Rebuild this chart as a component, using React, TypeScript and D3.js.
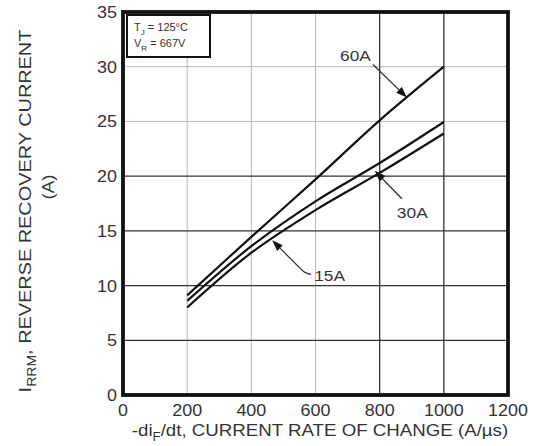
import React from 'react';
import * as d3 from 'd3';

// Reverse recovery current vs. current rate of change, T_J = 125°C, V_R = 667V
const diRates = [200, 400, 600, 800, 1000];
const irrm60A = [9.1, 14.45, 19.7, 25.1, 30.0];
const irrm30A = [8.6, 13.6, 17.7, 21.2, 24.95];
const irrm15A = [8.0, 13.0, 16.9, 20.3, 23.9];

const xTicks = [0, 200, 400, 600, 800, 1000, 1200];
const yTicks = [0, 5, 10, 15, 20, 25, 30, 35];
const lightXGrid = [200, 400, 600];
const darkXGrid = [800, 1000];
const lightYGrid = [25, 30];
const darkYGrid = [5, 10, 15, 20];

const W = 535;
const H = 446;
const M = { left: 123, top: 12, right: 27, bottom: 51 };
const FONT = "'Liberation Sans', Arial, Helvetica, sans-serif";
const INK = '#333';
const STRETCH = 1.12;

function interp(xs: number[], ys: number[], x: number) {
  for (let i = 0; i < xs.length - 1; i++) {
    if (x >= xs[i] && x <= xs[i + 1]) {
      const t = (x - xs[i]) / (xs[i + 1] - xs[i]);
      return ys[i] + t * (ys[i + 1] - ys[i]);
    }
  }
  return ys[ys.length - 1];
}

function Arrow({ x1, y1, x2, y2 }: { x1: number; y1: number; x2: number; y2: number }) {
  const ang = Math.atan2(y2 - y1, x2 - x1);
  const len = 11;
  const half = 4;
  const bx = x2 - len * Math.cos(ang);
  const by = y2 - len * Math.sin(ang);
  const px = -Math.sin(ang) * half;
  const py = Math.cos(ang) * half;
  return (
    <g>
      <line x1={x1} y1={y1} x2={bx} y2={by} stroke={INK} strokeWidth={1.3} />
      <polygon
        points={`${x2},${y2} ${bx + px},${by + py} ${bx - px},${by - py}`}
        fill="#111"
      />
    </g>
  );
}

function Label({
  x,
  y,
  anchor = 'start',
  size = 16,
  children,
}: {
  x: number;
  y: number;
  anchor?: string;
  size?: number;
  children: React.ReactNode;
}) {
  return (
    <g transform={`translate(${x},${y}) scale(${STRETCH},1)`}>
      <text x={0} y={0} textAnchor={anchor} fontFamily={FONT} fontSize={size} fill={INK}>
        {children}
      </text>
    </g>
  );
}

export default function App() {
  const iw = W - M.left - M.right;
  const ih = H - M.top - M.bottom;
  const x = d3.scaleLinear().domain([0, 1200]).range([M.left, M.left + iw]);
  const y = d3.scaleLinear().domain([0, 35]).range([M.top + ih, M.top]);

  const line = d3
    .line<[number, number]>()
    .x((d) => x(d[0]))
    .y((d) => y(d[1]))
    .curve(d3.curveCatmullRom.alpha(0.5));

  const series = [irrm60A, irrm30A, irrm15A];

  // annotation tips
  const t60 = { x: x(885), y: y(interp(diRates, irrm60A, 885)) };
  const v30 = (interp(diRates, irrm30A, 785) + interp(diRates, irrm15A, 785)) / 2;
  const t30 = { x: x(785), y: y(v30) };
  const t15 = { x: x(465), y: y(interp(diRates, irrm15A, 465)) + 1.5 };

  const tail60 = { x: t60.x - 34, y: t60.y - 33 };
  const tail30 = { x: t30.x + 27, y: t30.y + 28 };
  const tail15 = { x: t15.x + 28, y: t15.y + 28 };

  return (
    <svg width={W} height={H} style={{ position: 'absolute', left: 0, top: 0, background: '#fff' }}>
      <rect x={0} y={0} width={W} height={H} fill="#fff" />
      {/* grid */}
      {lightXGrid.map((v) => (
        <line key={`lx${v}`} x1={x(v)} x2={x(v)} y1={y(0)} y2={y(35)} stroke="#b8b8b8" strokeWidth={1} />
      ))}
      {lightYGrid.map((v) => (
        <line key={`ly${v}`} x1={x(0)} x2={x(1200)} y1={y(v)} y2={y(v)} stroke="#b8b8b8" strokeWidth={1} />
      ))}
      {darkXGrid.map((v) => (
        <line key={`dx${v}`} x1={x(v)} x2={x(v)} y1={y(0)} y2={y(35)} stroke="#333" strokeWidth={1.3} />
      ))}
      {darkYGrid.map((v) => (
        <line key={`dy${v}`} x1={x(0)} x2={x(1200)} y1={y(v)} y2={y(v)} stroke="#333" strokeWidth={1.3} />
      ))}

      {/* curves */}
      {series.map((s, i) => (
        <path
          key={i}
          d={line(diRates.map((d, j) => [d, s[j]] as [number, number])) || ''}
          fill="none"
          stroke="#111"
          strokeWidth={2.2}
        />
      ))}

      {/* plot frame */}
      <rect x={x(0)} y={y(35)} width={iw} height={ih} fill="none" stroke="#111" strokeWidth={3.8} />

      {/* condition box */}
      <rect x={127} y={15} width={83} height={42} fill="#fff" stroke="#111" strokeWidth={2} />
      <text x={134} y={31} fontFamily={FONT} fontSize={11} fill={INK}>
        T<tspan fontSize={8} dy={4}>J</tspan>
        <tspan dy={-4}> = 125°C</tspan>
      </text>
      <text x={134} y={47} fontFamily={FONT} fontSize={11} fill={INK}>
        V<tspan fontSize={8} dy={4}>R</tspan>
        <tspan dy={-4}> = 667V</tspan>
      </text>

      {/* annotations */}
      <Arrow x1={tail60.x} y1={tail60.y} x2={t60.x} y2={t60.y} />
      <Label x={tail60.x - 2} y={tail60.y - 4} anchor="end" size={15.5}>
        60A
      </Label>
      <Arrow x1={tail30.x} y1={tail30.y} x2={t30.x} y2={t30.y} />
      <Label x={tail30.x - 5} y={tail30.y + 19} size={15.5}>
        30A
      </Label>
      <Arrow x1={tail15.x} y1={tail15.y} x2={t15.x} y2={t15.y} />
      <path
        d={`M${tail15.x},${tail15.y} Q${tail15.x + 4},${tail15.y + 5} ${tail15.x + 11},${tail15.y + 6}`}
        fill="none"
        stroke={INK}
        strokeWidth={1.3}
      />
      <Label x={tail15.x + 14} y={tail15.y + 13} size={15.5}>
        15A
      </Label>

      {/* tick labels */}
      {xTicks.map((v) => (
        <Label key={`xt${v}`} x={x(v)} y={y(0) + 21} anchor="middle" size={16}>
          {v}
        </Label>
      ))}
      {yTicks.map((v) => (
        <Label key={`yt${v}`} x={x(0) - 6} y={y(v) + 6} anchor="end" size={16}>
          {v}
        </Label>
      ))}

      {/* axis titles */}
      <g transform={`translate(320, ${H - 10}) scale(1.1,1)`}>
        <text x={0} y={0} textAnchor="middle" fontFamily={FONT} fontSize={17} fill={INK}>
          -di<tspan fontSize={12} dy={5}>F</tspan>
          <tspan dy={-5}>/dt, CURRENT RATE OF CHANGE (A/µs)</tspan>
        </text>
      </g>
      <g transform={`translate(31, 211) rotate(-90) scale(1.17,1)`}>
        <text x={0} y={0} textAnchor="middle" fontFamily={FONT} fontSize={17} fill={INK}>
          I<tspan fontSize={12} dy={5}>RRM</tspan>
          <tspan dy={-5}>, REVERSE RECOVERY CURRENT</tspan>
        </text>
      </g>
      <g transform={`translate(54, 187) rotate(-90) scale(1.1,1)`}>
        <text x={0} y={0} textAnchor="middle" fontFamily={FONT} fontSize={17} fill={INK}>
          (A)
        </text>
      </g>
    </svg>
  );
}
